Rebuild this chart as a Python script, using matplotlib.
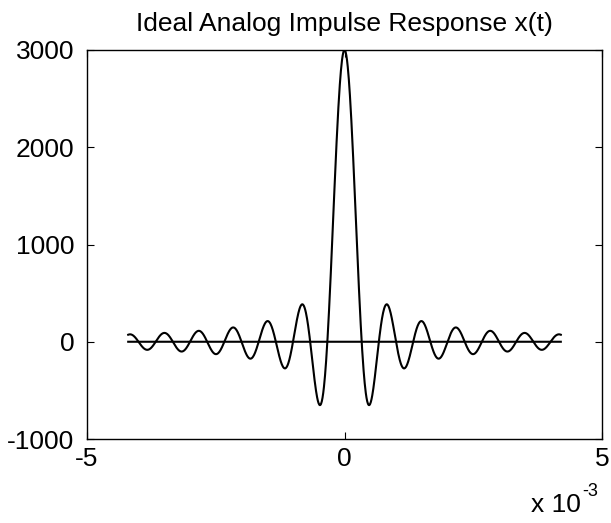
import numpy as np
import matplotlib
matplotlib.use("Agg")
import matplotlib.pyplot as plt

plt.rcParams['font.family'] = ['Liberation Sans', 'DejaVu Sans']

# Parameters
title = "Ideal Analog Impulse Response x(t)"
peak_amplitude = 3000.0      # x(0)
cutoff_hz = 1500.0           # first minimum at ~0.48e-3 s
t_start, t_end = -4.2e-3, 4.2e-3
n_samples = 1201
x_ticks = [-5e-3, 0.0, 5e-3]
x_tick_labels = ["-5", "0", "5"]
y_ticks = [-1000, 0, 1000, 2000, 3000]
y_tick_labels = ["-1000", "0", "1000", "2000", "3000"]
x_scale_base = "x 10"
x_scale_exp = "-3"

t = np.linspace(t_start, t_end, n_samples)
x = peak_amplitude * np.sinc(2 * cutoff_hz * t)
zero_line = np.zeros_like(t)

fig = plt.figure(figsize=(6.11, 5.23), dpi=100)
ax = fig.add_axes([0.1424, 0.1606, 0.8429, 0.7438])

ax.plot(t, x, color='black', linewidth=1.5)
ax.plot(t, zero_line, color='black', linewidth=1.5)

ax.set_xlim(-5e-3, 5e-3)
ax.set_ylim(-1000, 3000)
ax.set_xticks(x_ticks)
ax.set_xticklabels(x_tick_labels)
ax.set_yticks(y_ticks)
ax.set_yticklabels(y_tick_labels)
ax.tick_params(direction='in', top=True, right=True, labelsize=19,
               length=5, width=0.8)
ax.tick_params(axis='x', pad=6)
ax.tick_params(axis='y', pad=9)
for s in ax.spines.values():
    s.set_linewidth(1.0)

ax.set_title(title, fontsize=19, pad=14)
fig.text(581 / 611, 1 - 512 / 523, x_scale_base, fontsize=19,
         ha='right', va='baseline')
fig.text(582 / 611, 1 - 496 / 523, x_scale_exp, fontsize=13,
         ha='left', va='baseline')

fig.savefig("out.png", dpi=100)
